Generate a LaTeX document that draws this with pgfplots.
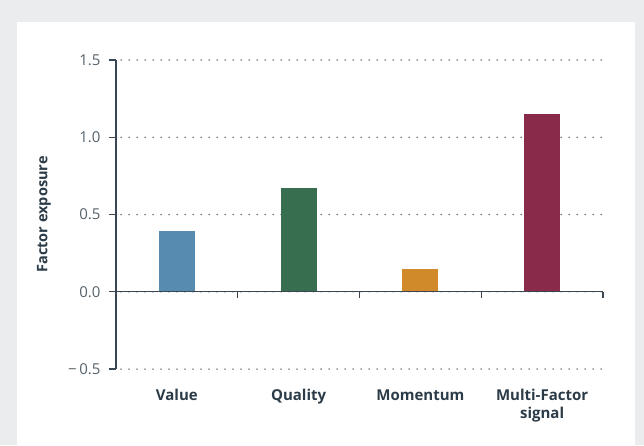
\documentclass[border=0pt]{standalone}
\usepackage{fontspec}
\setmainfont{Open Sans}
\usepackage{pgfplots}
\pgfplotsset{compat=1.18}
\definecolor{bggrey}{HTML}{EBECED}
\definecolor{axdark}{HTML}{3A4651}
\definecolor{txtdark}{HTML}{2B3B47}
\definecolor{ticktxt}{HTML}{56626B}
\definecolor{cValue}{HTML}{588BB0}
\definecolor{cQuality}{HTML}{376E50}
\definecolor{cMomentum}{HTML}{D08A2A}
\definecolor{cMulti}{HTML}{8A2A4A}
\begin{document}
\begin{tikzpicture}
\fill[bggrey] (0pt,0pt) rectangle (644pt,445pt);
\fill[white] (17pt,0pt) rectangle (635pt,423pt);
\begin{axis}[
  at={(116pt,76pt)}, anchor=south west,
  scale only axis, width=487pt, height=309pt,
  xmin=-0.5, xmax=3.5, ymin=-0.5, ymax=1.5,
  axis lines*=left,
  x axis line style={draw=none},
  y axis line style={axdark, line width=1.3pt},
  xtick={0,1,2,3},
  xticklabels={Value,Quality,Momentum,{Multi-Factor\\signal}},
  xticklabel style={font=\bfseries\fontsize{15}{18}\selectfont, text=txtdark, align=center, anchor=north, yshift=-10pt},
  major x tick style={draw=none},
  ytick={-0.5,0,0.5,1,1.5},
  yticklabels={−\,0.5,0.0,0.5,1.0,1.5},
  yticklabel style={font=\fontsize{15}{17}\selectfont, text=ticktxt, xshift=-5pt},
  major y tick style={axdark, line width=1.3pt},
  tick align=outside, major tick length=7pt,
  ymajorgrids,
  major grid style={axdark, line width=1.5pt, dash pattern=on 0pt off 8pt, line cap=round, dash phase=3pt},
  ylabel={Factor exposure},
  ylabel style={font=\bfseries\fontsize{14.5}{17}\selectfont, text=txtdark, at={(axis description cs:0,0.5)}, anchor=center, rotate=0, yshift=72pt},
  /pgf/number format/assume math mode=true,
  clip=false,
]
\addplot[ybar, bar shift=0pt, bar width=36pt, fill=cValue, draw=none] coordinates {(0,0.39)};
\addplot[ybar, bar shift=0pt, bar width=36pt, fill=cQuality, draw=none] coordinates {(1,0.67)};
\addplot[ybar, bar shift=0pt, bar width=36pt, fill=cMomentum, draw=none] coordinates {(2,0.15)};
\addplot[ybar, bar shift=0pt, bar width=36pt, fill=cMulti, draw=none] coordinates {(3,1.15)};
\draw[axdark, line width=1.3pt] (axis cs:-0.5,0) -- (axis cs:3.5,0);
\draw[axdark, line width=1.3pt] (axis cs:0.5,0) -- ++(0pt,-6pt);
\draw[axdark, line width=1.3pt] (axis cs:1.5,0) -- ++(0pt,-6pt);
\draw[axdark, line width=1.3pt] (axis cs:2.5,0) -- ++(0pt,-6pt);
\draw[axdark, line width=1.3pt] (axis cs:3.5,0) -- ++(0pt,-6pt);
\end{axis}
\end{tikzpicture}
\end{document}
